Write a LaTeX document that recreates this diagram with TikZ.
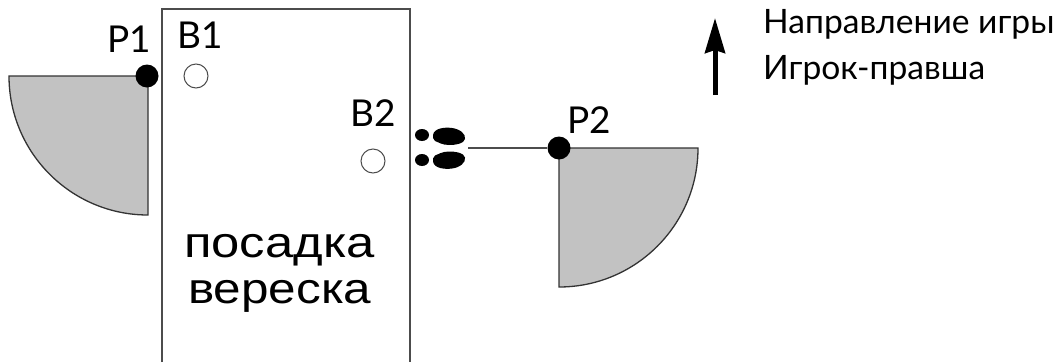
\documentclass[tikz,border=0pt]{standalone}
\usepackage{fontspec}
\setmainfont{Lato}
\newfontfamily\arialf{Liberation Sans}
\usetikzlibrary{arrows.meta}
\definecolor{linegray}{gray}{0.3}
\definecolor{sectorgray}{gray}{0.76}
\tikzset{
  sector/.style={draw=black!80,line width=1.3pt,fill=sectorgray},
  thinline/.style={draw=linegray,line width=1.2pt},
  ball/.style={circle,draw=linegray,line width=1pt,fill=white,minimum size=24pt,inner sep=0pt},
  player/.style={circle,fill=black,minimum size=23pt,inner sep=0pt},
  lab/.style={anchor=base west,inner sep=0pt,font=\fontsize{37}{37}\selectfont,text=black},
  legend/.style={anchor=base west,inner sep=0pt,font=\fontsize{33.6}{34}\selectfont,text=black},
  bigtext/.style={anchor=base west,inner sep=0pt,font=\arialf\fontsize{43}{43}\selectfont,text=black},
  shoe/.style={fill=black,draw=none}
}
\begin{document}
\begin{tikzpicture}[x=1pt,y=-1pt]
\useasboundingbox (0,0) rectangle (1062,362);
\coordinate (rbl) at (162,362);
\coordinate (rtl) at (162,9);
\coordinate (rtr) at (410,9);
\coordinate (rbr) at (410,362);
\draw[thinline] (rbl) -- (rtl) -- (rtr) -- (rbr);
\draw[sector] (148,76) -- (9,76) arc[start angle=180,end angle=90,radius=139] -- cycle;
\draw[sector] (559,148) -- (698,148) arc[start angle=0,end angle=90,radius=139] -- cycle;
\coordinate (lineend) at (468,148);
\node[player] (p2) at (559,148) {};
\draw[thinline] (lineend) -- (p2);
\node[player] (p1) at (147,76) {};
\node[ball] (b1) at (196,76) {};
\node[ball] (b2) at (373,161) {};
\fill[shoe] (422,135) ellipse[x radius=7,y radius=6];
\fill[shoe] (433,135) .. controls (434,128) and (445,127) .. (452,128) .. controls (460,129) and (466,134) .. (465,139) .. controls (464,144) and (455,145) .. (449,145) .. controls (442,145) and (438,142) .. (435,141) .. controls (433,140) and (433,137) .. (433,135) -- cycle;
\fill[shoe] (422,160) ellipse[x radius=7,y radius=6];
\fill[shoe] (433,161.5) .. controls (434,168.5) and (445,169.5) .. (452,168.5) .. controls (460,167.5) and (466,162.5) .. (465,157.5) .. controls (464,152.5) and (455,151.5) .. (449,151.5) .. controls (442,151.5) and (438,154.5) .. (435,155.5) .. controls (433,156.5) and (433,159.5) .. (433,161.5) -- cycle;
\node[lab] (lp1) at (107,52) {P1};
\node[lab] (lb1) at (177,48) {B1};
\node[lab] (lb2) at (350,126) {B2};
\node[lab] (lp2) at (567,133) {P2};
\node[bigtext,xscale=1.18] (t1) at (184,257) {посадка};
\node[bigtext,xscale=1.15] (t2) at (188,303) {вереска};
\coordinate (ab) at (715,95);
\coordinate (at) at (715,18);
\draw[line width=5pt,-{Stealth[length=35pt,width=20pt,inset=3pt]}] (ab) -- (at);
\node[legend] (l1) at (763,33) {Направление игры};
\node[legend] (l2) at (763,79) {Игрок-правша};
\end{tikzpicture}
\end{document}
